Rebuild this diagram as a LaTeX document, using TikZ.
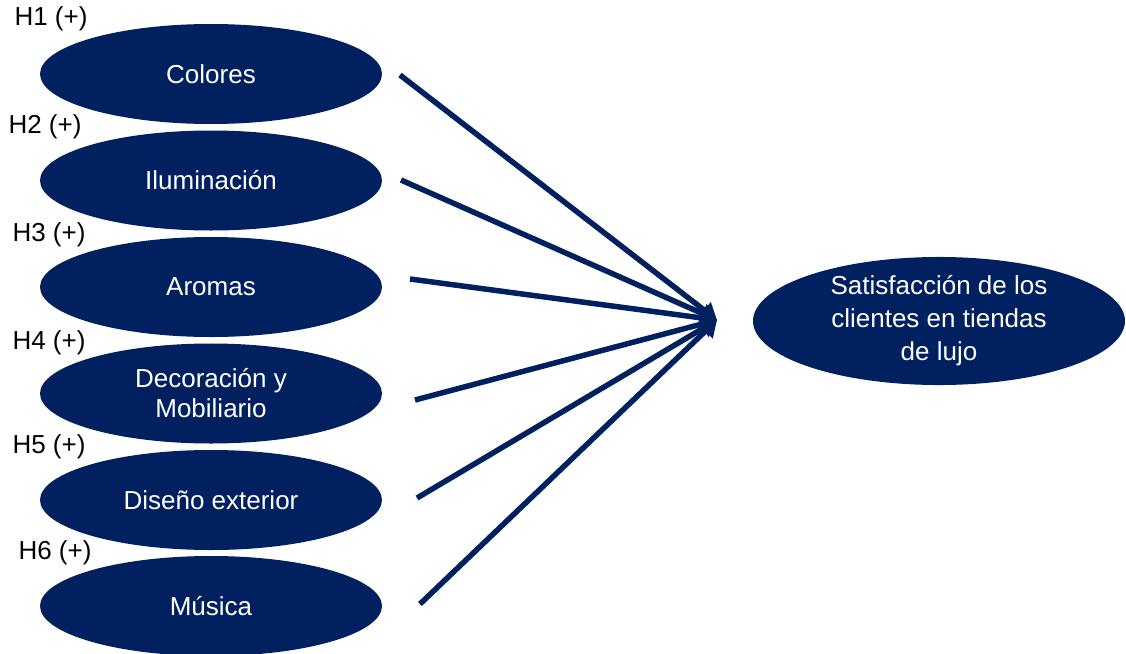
\documentclass[tikz,border=0pt]{standalone}
\usepackage{fontspec}
\setmainfont{Liberation Sans}
\usetikzlibrary{shapes.geometric, arrows.meta}
\definecolor{navy}{RGB}{0,32,96}

\begin{document}
\begin{tikzpicture}[x=1pt, y=-1pt,
    factor/.style={ellipse, fill=navy, text=white, minimum width=342pt, minimum height=100pt, inner sep=0pt, align=center, font=\fontsize{26}{30}\selectfont},
    hyp/.style={inner sep=0pt, font=\fontsize{26}{30}\selectfont},
    link/.style={draw=navy, line width=5.5pt, -{Triangle[length=16pt, width=20pt]}}]
    \useasboundingbox (0,0) rectangle (1126,653);

    \node[factor] (colores) at (211, 74) {Colores};
    \node[factor] (iluminacion) at (211, 180.5) {Iluminación};
    \node[factor] (aromas) at (211, 287) {Aromas};
    \node[factor] (decoracion) at (211, 393.5) {Decoración y\\Mobiliario};
    \node[factor] (diseno) at (211, 500) {Diseño exterior};
    \node[factor] (musica) at (211, 606) {Música};

    \node[factor, minimum width=372pt, minimum height=125pt, font=\fontsize{26}{33}\selectfont] (satisfaccion) at (939, 321) {Satisfacción de los\\clientes en tiendas\\de lujo};

    \node[hyp] (h1) at (51, 19) {H1 (+)};
    \node[hyp] (h2) at (45, 127) {H2 (+)};
    \node[hyp] (h3) at (49, 235) {H3 (+)};
    \node[hyp] (h4) at (49, 343) {H4 (+)};
    \node[hyp] (h5) at (49, 447) {H5 (+)};
    \node[hyp] (h6) at (55, 553) {H6 (+)};

    % line ends
    \coordinate (tip) at (717, 320);
    \coordinate (c1) at (400, 75);
    \coordinate (c2) at (401, 180);
    \coordinate (c3) at (410, 279);
    \coordinate (c4) at (415, 400);
    \coordinate (c5) at (417, 498);
    \coordinate (c6) at (420, 604);

    \draw[link] (c1) to (tip);
    \draw[link] (c2) to (tip);
    \draw[link] (c3) to (tip);
    \draw[link] (c4) to (tip);
    \draw[link] (c5) to (tip);
    \draw[link] (c6) to (tip);
\end{tikzpicture}
\end{document}
